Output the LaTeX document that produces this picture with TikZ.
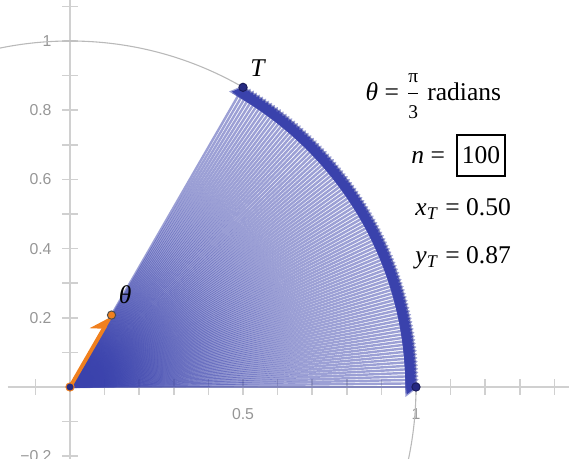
\documentclass[tikz,border=0pt]{standalone}
\usepackage{amsmath}
\usepackage{fontspec}
\setmainfont{Liberation Serif}
\newfontfamily\ticksfont{Liberation Sans}
\usetikzlibrary{arrows.meta,positioning}
\definecolor{fanblue}{RGB}{58,66,172}
\definecolor{dotblue}{RGB}{38,42,130}
\definecolor{vecorange}{RGB}{240,128,30}
\definecolor{axisgray}{RGB}{208,208,208}
\definecolor{ticklabel}{RGB}{150,150,150}

\begin{document}
\begin{tikzpicture}[x=5cm,y=5cm,
  ax/.style={axisgray,line width=0.7pt},
  circ/.style={gray!55,line width=0.45pt},
  vec/.style={fanblue,line width=1pt,draw opacity=0.5,-{Triangle[length=5.5pt,width=8pt]}},
  ticklab/.style={font=\ticksfont\fontsize{6.5}{7}\selectfont,text=ticklabel,inner sep=1pt},
  val/.style={font=\fontsize{10.5}{12}\selectfont,inner sep=0pt},
  pt/.style={circle,fill=dotblue,draw=dotblue!70!black,inner sep=0pt,minimum size=3.4pt}]
  \useasboundingbox (-0.2023,-0.2081) rectangle (1.4422,1.1185);
  \draw[ax] (-0.18,0)--(1.45,0);
  \draw[ax] (0,-0.21)--(0,1.12);
  \foreach \k in {-2,...,11} \draw[ax] (-0.023,\k/10)--(0.023,\k/10);
  \foreach \k in {-1,...,14} \draw[ax] (\k/10,-0.023)--(\k/10,0.023);
  \foreach \k/\lab in {2/0.2,4/0.4,6/0.6,8/0.8,10/1} \node[ticklab,anchor=east] (ly\k) at (-0.045,\k/10) {\lab};
  \node[ticklab,anchor=east] (lym2) at (-0.045,-0.2) {−0.2};
  \node[ticklab,anchor=north] (lx5) at (0.5,-0.055) {0.5};
  \node[ticklab,anchor=north] (lx10) at (1,-0.055) {1};
  \draw[circ] (0,0) circle (1);
  \coordinate (O) at (0,0);
  \foreach \k in {0,...,100}{
    \coordinate (p\k) at (0.6*\k:1.008);
    \draw[vec] (O)--(p\k);
  }
  \coordinate (V) at (60:0.24);
  \draw[vecorange,line width=1.6pt,-{Stealth[left,length=8pt,width=10pt]}] (O)--(V);
  \node[pt,fill=vecorange,draw=black!70] (thetapt) at (V) {};
  \node[pt,draw=vecorange] (origin) at (O) {};
  \node[pt] (T) at (60:1) {};
  \node[pt] (X1) at (1,0) {};
  \node[val,above right=3pt and 1.5pt of T] (Tlab) {\textit{T}};
  \node[val,above right=3pt and 1.5pt of thetapt] (thetalab) {\textit{θ}};
  \node[val,anchor=base west] (ang) at (0.853,0.829) {\textit{θ} = $\dfrac{\text{\fontsize{8}{8}\selectfont π}}{\text{\fontsize{8}{8}\selectfont 3}}$ radians};
  \node[val,draw,line width=0.5pt,minimum width=19.7pt,minimum height=16.9pt] (nbox) at (1.188,0.669) {100};
  \node[val,anchor=base east] (nlab) at ([xshift=-4.5pt]nbox.base west) {\textit{n} =};
  \node[val,anchor=base west] (xT) at (0.997,0.497) {\textit{x}\textsubscript{\textit{T}} = 0.50};
  \node[val,anchor=base west] (yT) at (0.997,0.358) {\textit{y}\textsubscript{\textit{T}} = 0.87};
\end{tikzpicture}
\end{document}
